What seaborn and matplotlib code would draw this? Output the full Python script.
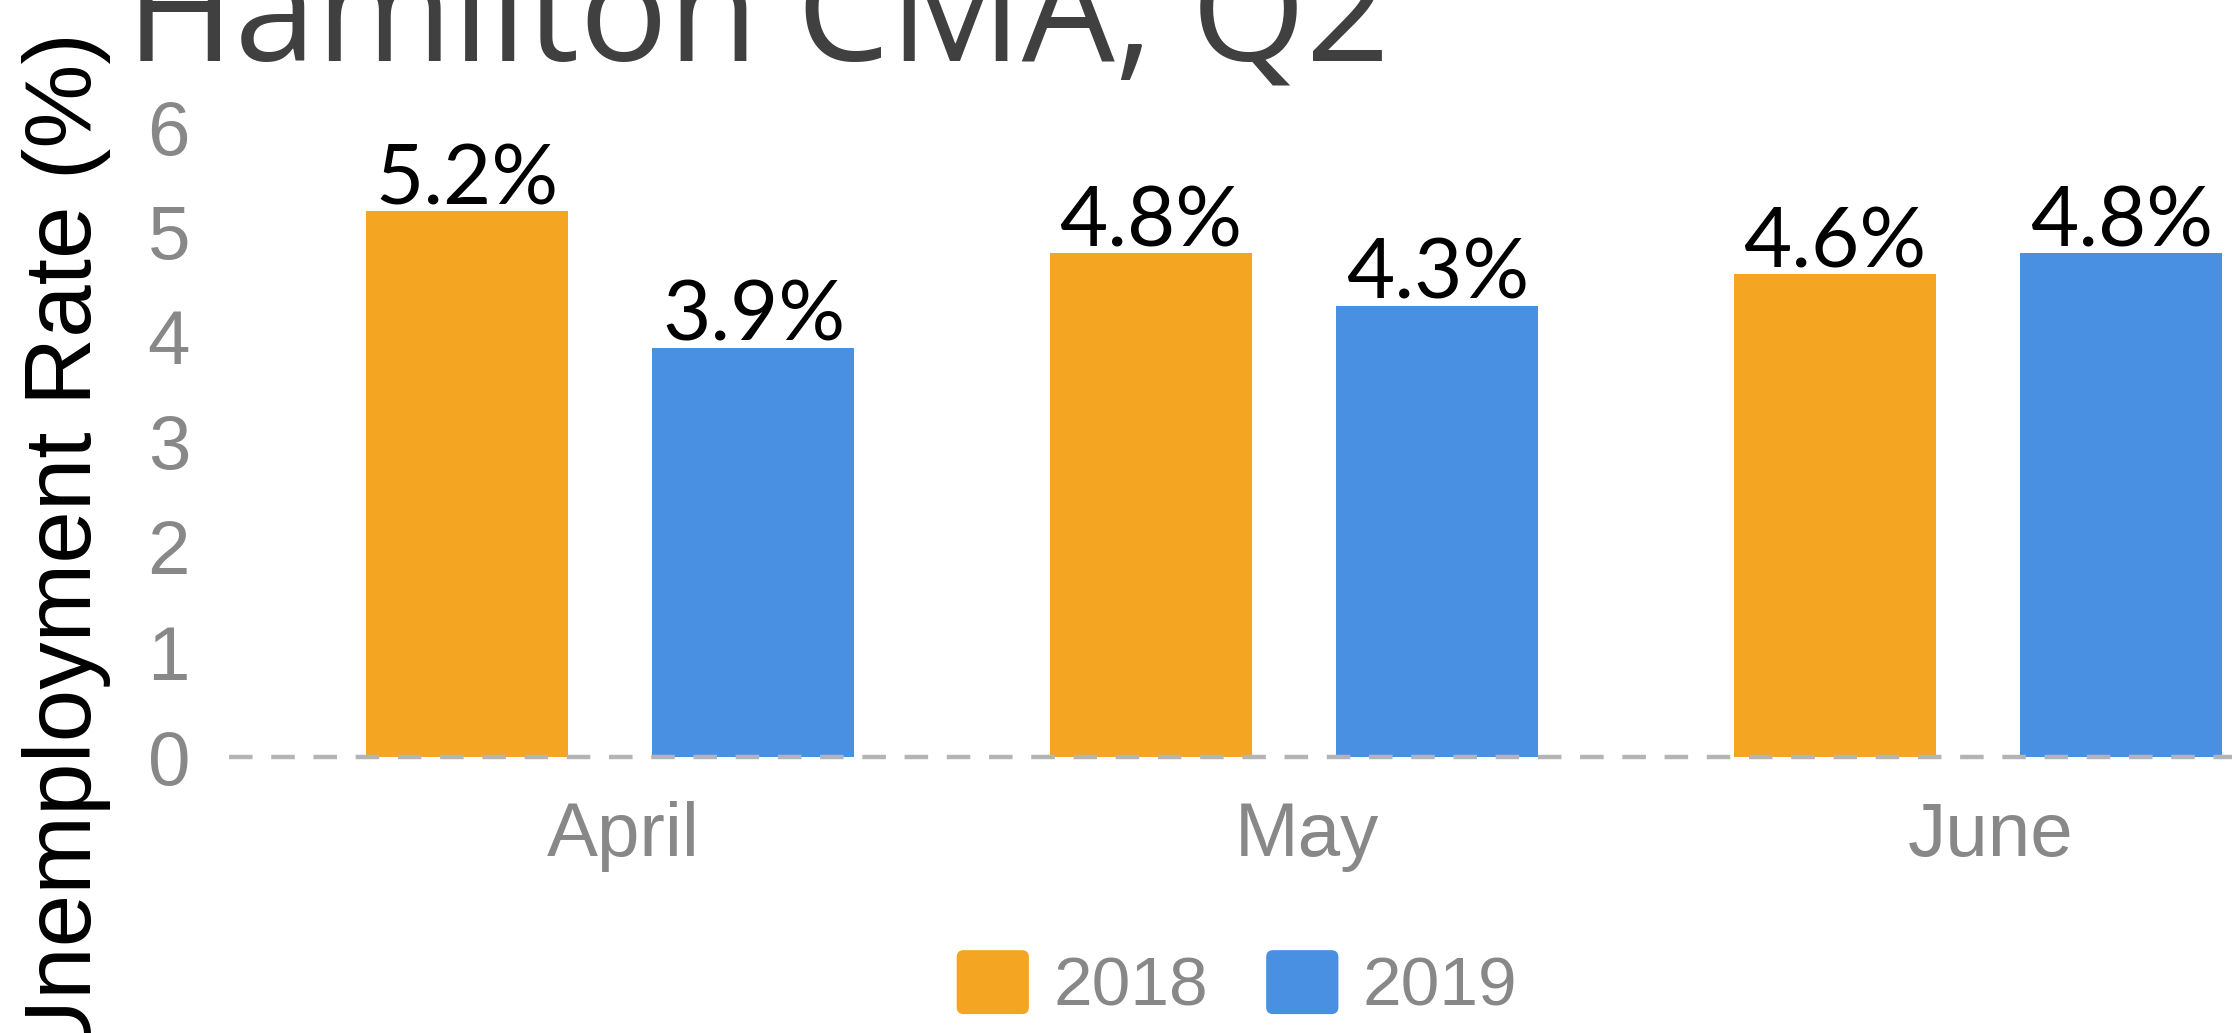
import numpy as np
import pandas as pd
import matplotlib
import matplotlib.pyplot as plt
import matplotlib.transforms as mtransforms
from matplotlib.patches import FancyBboxPatch
from matplotlib.legend_handler import HandlerPatch
import seaborn as sns

#%% data
months = ['April', 'May', 'June']
years = ['2018', '2019']
rate_2018 = [5.2, 4.8, 4.6]
rate_2019 = [3.9, 4.3, 4.8]
y_ticks = [0, 1, 2, 3, 4, 5, 6]

df = pd.DataFrame({
    'Month': months * 2,
    'Year': [years[0]] * 3 + [years[1]] * 3,
    'Rate': rate_2018 + rate_2019,
})

#%% style
sns.set_style('white')
plt.rcParams['font.family'] = ['Liberation Sans', 'DejaVu Sans']
orange = '#F4A623'
blue = '#4A90E2'
grey = '#888888'

#%% plot
fig = plt.figure(figsize=(22.32, 10.33), dpi=100)
# axes runs past the right edge, the chart is cropped there
x0 = 229 / 2232
ax = fig.add_axes([x0, 1 - 757 / 1033, 3.114 * 684 / 2232, 630 / 1033])

sns.barplot(data=df, x='Month', y='Rate', hue='Year', palette=[orange, blue],
            width=0.839, gap=0.296, saturation=1, linewidth=0, ax=ax)
ax.set_xlim(-0.557, 2.557)
ax.set_ylim(0, 6)
ax.set_yticks(y_ticks)
ax.set_xlabel('')
ax.set_ylabel('')
sns.despine(ax=ax, left=True, bottom=True)
ax.tick_params(axis='both', length=0, labelsize=55, labelcolor=grey)
ax.tick_params(axis='y', pad=28)
ax.tick_params(axis='x', pad=32)
# month labels sit a bit right of the bar pairs
shift = mtransforms.ScaledTranslation(13 / 100, 0, fig.dpi_scale_trans)
for lab in ax.get_xticklabels():
    lab.set_transform(lab.get_transform() + shift)

ax.axhline(0, ls=(0, (5.3, 4.2)), lw=3.2, color='#b4b4b4', clip_on=False, zorder=5)

for c in ax.containers:
    ax.bar_label(c, fmt='%.1f%%', padding=-6, fontsize=60, color='black',
                 family=['Lato', 'DejaVu Sans'], clip_on=False)

#%% legend
def rounded_box(legend, orig_handle, xdescent, ydescent, width, height, fontsize):
    return FancyBboxPatch((-xdescent, -ydescent), width, height,
                          boxstyle='round,pad=0,rounding_size=5')

handles, labels = ax.get_legend_handles_labels()
ax.legend(handles, labels, loc='center', bbox_to_anchor=(1237 / 2232, 1 - 985 / 1033),
          bbox_transform=fig.transFigure, ncol=2, frameon=False, fontsize=50,
          labelcolor=grey, handlelength=1.04, handleheight=1.04,
          handletextpad=0.35, columnspacing=0.84, borderpad=0,
          handler_map={matplotlib.patches.Rectangle: HandlerPatch(patch_func=rounded_box)})

#%% titles
fig.text(126 / 2232, 1 - 61 / 1033, 'Hamilton CMA, Q2', fontsize=106, color='#404040',
         family=['Open Sans', 'DejaVu Sans'], ha='left', va='baseline')
fig.text(67 / 2232, 1 - 550 / 1033, 'Unemployment Rate (%)', fontsize=68,
         color='black', rotation=90, ha='center', va='center')

fig.savefig('out.png', dpi=100)
